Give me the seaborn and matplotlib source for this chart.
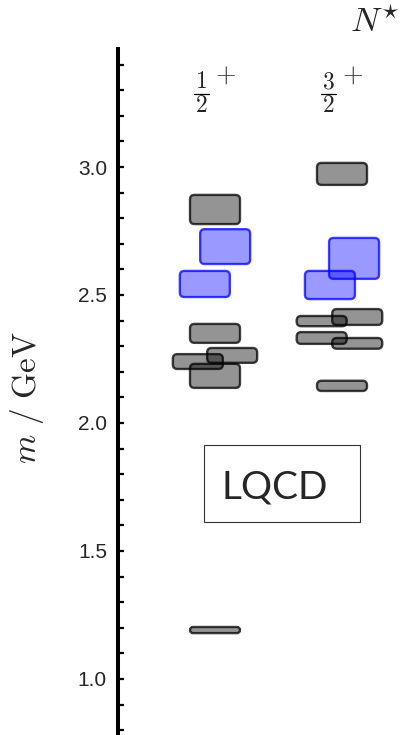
import matplotlib
matplotlib.use("Agg")
import matplotlib.pyplot as plt
from matplotlib.patches import FancyBboxPatch, Rectangle
from matplotlib.lines import Line2D
from matplotlib.ticker import MultipleLocator, FormatStrFormatter
from matplotlib.transforms import offset_copy
import seaborn as sns

# Lattice QCD nucleon excitation levels, grouped by J^P
spin_num = ["1", "3"]
spin_den = ["2", "2"]
parity = ["+", "+"]

col_half = [0, 0, 0, 0, 0, 0, 0, 0]
mass_half = [2.834, 2.689, 2.543, 2.350, 2.264, 2.240, 2.184, 1.191]
err_half = [0.057, 0.068, 0.051, 0.037, 0.029, 0.029, 0.047, 0.012]
kind_half = ["gray", "blue", "blue", "gray", "gray", "gray", "gray", "gray"]

col_three = [1, 1, 1, 1, 1, 1, 1, 1]
mass_three = [2.973, 2.643, 2.539, 2.414, 2.398, 2.332, 2.311, 2.145]
err_three = [0.043, 0.080, 0.055, 0.031, 0.020, 0.023, 0.021, 0.020]
kind_three = ["gray", "blue", "blue", "gray", "gray", "gray", "gray", "gray"]

# horizontal nudges (in column units) so overlapping levels stay visible
shift_half = [0.0, 0.08, -0.08, 0.0, 0.135, -0.135, 0.0, 0.0]
shift_three = [0.0, 0.095, -0.095, 0.12, -0.16, -0.16, 0.12, 0.0]

sns.set_style("ticks")
plt.rcParams["mathtext.fontset"] = "cm"
plt.rcParams["font.family"] = ["Liberation Sans", "DejaVu Sans"]

W, H = 404, 735
fig = plt.figure(figsize=(W / 100, H / 100), dpi=100)
ax = fig.add_axes([118 / W, 0.0, 1 - 118 / W, 686 / H])

x_lo, x_hi = (118 - 215) / 127, (404 - 215) / 127
y_lo, y_hi = 0.781, 3.461
ax.set_xlim(x_lo, x_hi)
ax.set_ylim(y_lo, y_hi)

# px per data unit, used to keep corner rounding circular
px_x = 127.0
px_y = 256.0
aspect = px_x / px_y
box_w = 50 / px_x
radius_px = 4.5

styles = {
    "gray": dict(facecolor=(0, 0, 0, 0.42), edgecolor=(0, 0, 0, 0.75)),
    "blue": dict(facecolor=(0, 0, 1, 0.40), edgecolor=(0, 0, 1, 0.75)),
}

def draw_levels(cols, masses, errs, kinds, shifts):
    for c, m, e, k, s in zip(cols, masses, errs, kinds, shifts):
        xc = c + s
        r_px = min(radius_px, e * px_y)
        patch = FancyBboxPatch(
            (xc - box_w / 2, m - e), box_w, 2 * e,
            boxstyle=f"round,pad=0,rounding_size={r_px / px_x}",
            mutation_aspect=aspect,
            linewidth=1.7, **styles[k])
        ax.add_patch(patch)

draw_levels(col_half, mass_half, err_half, kind_half, shift_half)
draw_levels(col_three, mass_three, err_three, kind_three, shift_three)

# column headers: stacked fraction with a raised parity sign
head_y = 3.285
num_tr = offset_copy(ax.transData, fig=fig, x=-14, y=12, units="dots")
den_tr = offset_copy(ax.transData, fig=fig, x=-14, y=-12, units="dots")
bar_tr = offset_copy(ax.transData, fig=fig, x=-14, y=0, units="dots")
sign_tr = offset_copy(ax.transData, fig=fig, x=10, y=19, units="dots")
half_bar = 7.5 / px_x
for i in range(len(spin_num)):
    ax.text(i, head_y, f"${spin_num[i]}$", transform=num_tr, ha="center",
            va="center", fontsize=17, clip_on=False)
    ax.text(i, head_y, f"${spin_den[i]}$", transform=den_tr, ha="center",
            va="center", fontsize=17, clip_on=False)
    ax.add_line(Line2D([i - half_bar, i + half_bar], [head_y, head_y],
                       transform=bar_tr, color="black", linewidth=0.9,
                       clip_on=False))
    ax.text(i, head_y, f"${parity[i]}$", transform=sign_tr, ha="center",
            va="center", fontsize=19, clip_on=False)

fig.text(375 / W, 1 - 22 / H, r"$N^{\star}$", ha="center", va="center",
         fontsize=25)

# axis styling
sns.despine(ax=ax, top=True, right=True, bottom=True)
ax.spines["left"].set_linewidth(2.9)
ax.spines["left"].set_color("black")
ax.set_xticks([])
ax.yaxis.set_minor_locator(MultipleLocator(0.1))
ax.set_yticks([1.0, 1.5, 2.0, 2.5, 3.0])
ax.yaxis.set_major_formatter(FormatStrFormatter("%.1f"))
ax.tick_params(axis="y", which="both", direction="in", length=4.5,
               width=1.6, color="black", labelsize=15, pad=8)
ax.patch.set_alpha(0)

fig.text(27 / W, 1 - 398 / H, r"$m\ /\ \mathrm{GeV}$", rotation=90,
         ha="center", va="center", fontsize=24)

# label box
fig.patches.append(Rectangle((204 / W, 1 - 522 / H), 156 / W, 77 / H,
                             transform=fig.transFigure, fill=False,
                             edgecolor="#333333", linewidth=0.8))
fig.text(275 / W, 1 - 487 / H, "LQCD", ha="center", va="center",
         fontsize=28, family=["Lato", "DejaVu Sans"])

fig.savefig("out.png", dpi=100, facecolor="white")
